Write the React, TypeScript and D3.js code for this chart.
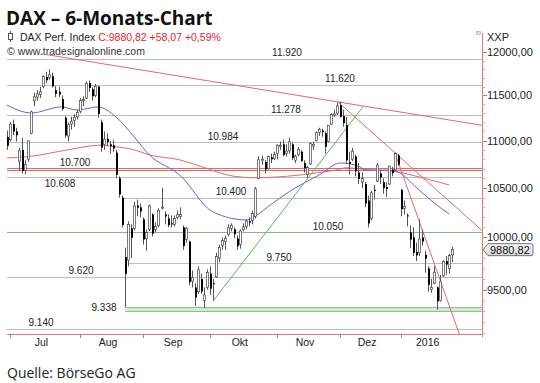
import React from 'react';
import * as d3 from 'd3';

const dates = [
  '2015-06-30',
  '2015-07-01','2015-07-02','2015-07-03','2015-07-06','2015-07-07','2015-07-08','2015-07-09','2015-07-10','2015-07-13','2015-07-14','2015-07-15','2015-07-16','2015-07-17','2015-07-20','2015-07-21','2015-07-22','2015-07-23','2015-07-24','2015-07-27','2015-07-28','2015-07-29','2015-07-30','2015-07-31',
  '2015-08-03','2015-08-04','2015-08-05','2015-08-06','2015-08-07','2015-08-10','2015-08-11','2015-08-12','2015-08-13','2015-08-14','2015-08-17','2015-08-18','2015-08-19','2015-08-20','2015-08-21','2015-08-24','2015-08-25','2015-08-26','2015-08-27','2015-08-28','2015-08-31',
  '2015-09-01','2015-09-02','2015-09-03','2015-09-04','2015-09-07','2015-09-08','2015-09-09','2015-09-10','2015-09-11','2015-09-14','2015-09-15','2015-09-16','2015-09-17','2015-09-18','2015-09-21','2015-09-22','2015-09-23','2015-09-24','2015-09-25','2015-09-28','2015-09-29','2015-09-30',
  '2015-10-01','2015-10-02','2015-10-05','2015-10-06','2015-10-07','2015-10-08','2015-10-09','2015-10-12','2015-10-13','2015-10-14','2015-10-15','2015-10-16','2015-10-19','2015-10-20','2015-10-21','2015-10-22','2015-10-23','2015-10-26','2015-10-27','2015-10-28','2015-10-29','2015-10-30',
  '2015-11-02','2015-11-03','2015-11-04','2015-11-05','2015-11-06','2015-11-09','2015-11-10','2015-11-11','2015-11-12','2015-11-13','2015-11-16','2015-11-17','2015-11-18','2015-11-19','2015-11-20','2015-11-23','2015-11-24','2015-11-25','2015-11-26','2015-11-27','2015-11-30',
  '2015-12-01','2015-12-02','2015-12-03','2015-12-04','2015-12-07','2015-12-08','2015-12-09','2015-12-10','2015-12-11','2015-12-14','2015-12-15','2015-12-16','2015-12-17','2015-12-18','2015-12-21','2015-12-22','2015-12-23','2015-12-28','2015-12-29','2015-12-30',
  '2016-01-04','2016-01-05','2016-01-06','2016-01-07','2016-01-08','2016-01-11','2016-01-12','2016-01-13','2016-01-14','2016-01-15','2016-01-18','2016-01-19','2016-01-20','2016-01-21','2016-01-22','2016-01-25','2016-01-26','2016-01-27',
];

const opens = [
  11040,
  11010,11180,11100,10780,10900,10680,10800,11080,11440,11480,11510,11600,11710,11700,11720,11560,11540,11460,11250,11050,11180,11220,11260,
  11320,11440,11470,11640,11570,11500,11600,11200,10960,11020,10960,10950,10870,10600,10400,9810,9780,10090,10090,10320,10300,
  10180,9990,10080,10230,10080,10120,10300,10230,10190,10140,10130,10200,10210,10100,9980,9960,9580,9520,9480,9600,9400,9520,
  9650,9560,9620,9800,9920,9960,10030,10090,10080,9990,9930,10080,10110,10160,10170,10210,10600,10790,10770,10700,10820,10810,
  10860,10940,10960,10860,10890,10960,10790,10850,10880,10760,10640,10750,10940,11000,11090,11110,11080,10990,11180,11280,11300,
  11390,11270,11170,10770,10800,10830,10660,10560,10540,10370,10190,10480,10570,10650,10560,10510,10540,10690,10690,10840,
  10480,10290,10220,10050,10000,9860,9850,10000,9830,9700,9500,9560,9520,9400,9630,9770,9700,9830,
];
const highs = [
  11110,
  11200,11230,11140,10920,11030,10790,11000,11330,11530,11560,11600,11730,11770,11800,11760,11610,11600,11500,11270,11200,11260,11290,11340,
  11470,11490,11660,11670,11590,11630,11610,11230,11100,11080,11000,11010,10900,10620,10420,9900,10160,10130,10360,10380,10340,
  10200,10080,10330,10240,10150,10290,10500,10260,10230,10220,10220,10270,10300,10120,10100,9970,9680,9560,9720,9650,9520,9690,
  9720,9600,9850,9930,10000,10020,10130,10140,10100,10020,10080,10140,10180,10200,10270,10510,10830,10840,10790,10840,10860,10880,
  10960,10990,11010,10960,11030,10980,10850,10930,10900,10790,10730,10980,10990,11100,11140,11130,11100,11170,11300,11340,11420,
  11430,11340,11260,10880,10920,10850,10760,10660,10560,10420,10470,10530,10760,10680,10600,10560,10730,10720,10870,10860,
  10490,10370,10240,10120,10100,9950,10180,10080,9870,9720,9600,9720,9530,9640,9780,9820,9840,9910,
];
const lows = [
  10900,
  10990,11060,10990,10680,10650,10640,10770,11070,11380,11440,11470,11580,11640,11680,11590,11480,11480,11330,11030,10990,11120,11150,11230,
  11300,11380,11460,11540,11440,11480,11250,10880,10900,10940,10860,10880,10600,10400,10100,9338,9720,9800,10070,10210,10200,
  9930,9870,10060,10010,10050,10100,10280,10130,10100,10100,10110,10180,10180,9880,9950,9540,9520,9350,9460,9460,9330,9500,
  9450,9400,9610,9760,9880,9880,10010,10060,9990,9880,9890,10060,10080,10110,10130,10190,10590,10740,10650,10690,10760,10790,
  10800,10900,10830,10830,10860,10790,10760,10830,10770,10660,10600,10740,10900,10990,11050,11040,10860,10980,11170,11260,11280,
  11250,11150,10750,10640,10780,10620,10540,10500,10300,10100,10170,10380,10560,10540,10440,10410,10530,10620,10680,10730,
  10210,10230,10110,9900,9820,9770,9820,9920,9660,9480,9470,9550,9314,9390,9620,9640,9650,9760,
];
const closes = [
  10945,
  11180,11099,11058,10890,10677,10747,10997,11316,11485,11517,11540,11717,11673,11735,11604,11520,11512,11347,11056,11174,11211,11257,11308,
  11443,11456,11636,11585,11490,11604,11293,10925,11015,10985,10940,10915,10636,10432,10124,9648,10128,9997,10315,10298,10259,
  9980,10048,10318,10038,10108,10271,10303,10210,10123,10131,10188,10227,10229,9916,10092,9570,9612,9427,9688,9483,9450,9660,
  9509,9553,9814,9902,9970,9993,10096,10119,10032,9915,10064,10104,10164,10147,10238,10491,10794,10801,10692,10831,10800,10850,
  10950,10951,10845,10887,10988,10815,10833,10907,10783,10708,10713,10971,10960,11086,11120,11092,10933,11169,11285,11293,11382,
  11261,11190,10789,10752,10886,10673,10592,10598,10340,10139,10450,10469,10738,10608,10497,10488,10727,10653,10860,10743,
  10283,10310,10214,9979,9849,9825,9985,9960,9794,9545,9521,9664,9391,9574,9765,9737,9823,9881,
];

// moving averages (bar index, value)
const blueMaIdx = [0, 8, 18, 23, 30, 36, 42, 47, 57, 68, 79, 81, 86, 94, 103, 110, 115, 119, 125, 129, 135, 141, 146];
const blueMaVal = [11392, 11303, 11371, 11336, 11371, 11258, 11039, 10846, 10634, 10254, 10174, 10194, 10304, 10478, 10634, 10760, 10739, 10686, 10686, 10665, 10508, 10345, 10233];
const redMaIdx = [0, 7, 20, 31, 34, 42, 47, 57, 64, 75, 82, 92, 103, 109, 112, 119, 128, 137, 146];
const redMaVal = [10814, 10828, 10900, 10952, 10941, 10900, 10846, 10794, 10724, 10620, 10605, 10620, 10659, 10689, 10710, 10689, 10671, 10605, 10530];

// horizontal levels
const levels = [11920, 11620, 11278, 10984, 10700, 10608, 10400, 10050, 9750, 9620, 9338, 9140];
const levelKind = ['gray', 'gray', 'gray', 'gray', 'red', 'gray', 'gray', 'green', 'gray', 'gray', 'band', 'gray'];
const levelStartIdx = [0, 0, 0, 0, 0, 0, 38.5, 0, 39.9, 0, 39, 0];
const bandLow = 9305;

// trend lines (bar index, value) anchors
const trendA = [[24, 11908], [109.2, 11427]];
const trendB = [[109.2, 11427], [128, 10870]];
const trendC = [[128, 10870], [137, 10080]];
const trendGreen = [[68, 9393], [117.5, 11373]];

const yTicks = [9500, 10000, 10500, 11000, 11500, 12000];
const monthLabels = ['Jul', 'Aug', 'Sep', 'Okt', 'Nov', 'Dez', '2016'];
const lastClose = 9880.82;

// layout for level labels (px) - not data
const levelLabelX = [287, 340, 286, 223, 75, 60, 231, 328, 279, 81, 104, 41];
const levelLabelPos = ['a', 'a', 'a', 'a', 'a', 'b', 'a', 'a', 'a', 'a', 'm', 'a'];

const de = d3.formatLocale({ decimal: ',', thousands: '.', grouping: [3], currency: ['', '€'] });
const fmtLevel = de.format(',');
const fmtTick = de.format('.2f');

const SANS = 'Liberation Sans, Arial, sans-serif';

export default function App() {
  const left = 7, right = 482, top = 30, bottom = 334;
  const x = d3.scaleLinear().domain([0, dates.length - 1]).range([7, 452.4]);
  const y = d3.scaleLog().domain([9094, 12085]).range([bottom, 45]);
  const step = x(1) - x(0);

  const monthStarts: number[] = [];
  dates.forEach((d, i) => {
    if (i > 0 && d.slice(5, 7) !== dates[i - 1].slice(5, 7)) monthStarts.push(i);
  });

  const maLine = d3.line<[number, number]>().x(d => x(d[0])).y(d => y(d[1])).curve(d3.curveMonotoneX);
  const blue = maLine(blueMaIdx.map((v, i) => [v, blueMaVal[i]] as [number, number]));
  const red = maLine(redMaIdx.map((v, i) => [v, redMaVal[i]] as [number, number]));

  const extLine = (t: number[][], x0: number, x1: number) => {
    const ax = x(t[0][0]), ay = y(t[0][1]), bx = x(t[1][0]), by = y(t[1][1]);
    const s = (by - ay) / (bx - ax);
    return { x1: x0, y1: ay + s * (x0 - ax), x2: x1, y2: ay + s * (x1 - ax) };
  };
  const lA = extLine(trendA, 42, right);
  const lB = extLine(trendB, x(trendB[0][0]), right);
  const lC = extLine(trendC, x(trendC[0][0]), 470);
  const lG = extLine(trendGreen, x(trendGreen[0][0]), x(trendGreen[1][0]));

  const minorTicks = d3.range(9100, 12100, 100);
  const yc = y(lastClose);

  return (
    <svg width={540} height={383} style={{ position: 'absolute', left: 0, top: 0, background: '#fff' }}>
      <defs>
        <clipPath id="plot"><rect x={left} y={top} width={right - left} height={bottom - top} /></clipPath>
        <linearGradient id="tag" x1="0" x2="0" y1="0" y2="1">
          <stop offset="0" stopColor="#f6f6f6" />
          <stop offset="1" stopColor="#d8d8d8" />
        </linearGradient>
      </defs>
      {/* Title */}
      <text x={6} y={25} fontFamily="Open Sans, sans-serif" fontWeight={700} fontSize={19} fill="#111">DAX – 6-Monats-Chart</text>
      {/* legend line */}
      <g stroke="#555" strokeWidth={1}>
        <line x1={10.5} x2={10.5} y1={31} y2={42} />
        <rect x={8.5} y={33.5} width={4} height={6} fill="#fff" />
      </g>
      <text x={20} y={40.5} fontFamily={SANS} fontSize={10.5} fill="#222">DAX Perf. Index <tspan fill="#e0262b">C:9880,82 +58,07 +0,59%</tspan></text>
      <text x={7} y={55} fontFamily={SANS} fontSize={10.5} fill="#333">© www.tradesignalonline.com</text>

      <g clipPath="url(#plot)">
        {/* horizontal levels */}
        {levels.map((v, i) => {
          const xs = i === 0 || levelStartIdx[i] === 0 ? left : x(levelStartIdx[i]);
          const yy = Math.round(y(v)) + 0.5;
          if (levelKind[i] === 'red') {
            return (
              <g key={i} stroke="#e06a6a" strokeWidth={1}>
                <line x1={xs} x2={right} y1={yy - 1} y2={yy - 1} />
                <line x1={xs} x2={right} y1={yy + 1} y2={yy + 1} />
              </g>
            );
          }
          if (levelKind[i] === 'band') {
            const y2 = Math.round(y(bandLow)) + 0.5;
            return (
              <g key={i}>
                <rect x={xs} y={yy} width={right - xs} height={y2 - yy} fill="#d3e9d3" />
                <line x1={xs} x2={right} y1={yy} y2={yy} stroke="#8cbf8c" />
                <line x1={xs} x2={right} y1={y2} y2={y2} stroke="#8cbf8c" />
              </g>
            );
          }
          return <line key={i} x1={xs} x2={right} y1={yy} y2={yy} stroke={levelKind[i] === 'green' ? '#86bb86' : '#bdbdbd'} strokeWidth={1} />;
        })}

        {/* moving averages */}
        <path d={red || ''} fill="none" stroke="#e06a6a" strokeWidth={1} />
        <path d={blue || ''} fill="none" stroke="#6464d8" strokeWidth={1} />

        {/* trend lines */}
        <line {...lA} stroke="#e06a6a" strokeWidth={1} />
        <line {...lB} stroke="#e06a6a" strokeWidth={1} />
        <line {...lC} stroke="#e06a6a" strokeWidth={1} />
        <line {...lG} stroke="#5fb05f" strokeWidth={1} />

        {/* candles */}
        {dates.map((d, i) => {
          const px = Math.round(x(i));
          const o = opens[i], c = closes[i];
          const up = c >= o;
          const yt = y(Math.max(o, c));
          const yb = y(Math.min(o, c));
          const hgt = Math.max(1, yb - yt);
          return (
            <g key={d}>
              <line x1={px + 0.5} x2={px + 0.5} y1={y(highs[i])} y2={y(lows[i])} stroke="#555" strokeWidth={1} />
              {up ? (
                <rect x={px - 0.5} y={yt} width={2} height={hgt} fill="#fff" stroke="#444" strokeWidth={0.7} />
              ) : (
                <rect x={px} y={yt} width={2} height={hgt} fill="#000" />
              )}
            </g>
          );
        })}
      </g>

      {/* level labels */}
      {levels.map((v, i) => {
        const yy = y(v);
        const pos = levelLabelPos[i];
        const by = pos === 'a' ? yy - 2.5 : pos === 'b' ? yy + 10 : yy + 3.5;
        return (
          <text key={i} x={levelLabelX[i]} y={by} textAnchor="middle" fontFamily={SANS} fontSize={10} fill="#222">{fmtLevel(v)}</text>
        );
      })}

      {/* right axis */}
      <line x1={right + 0.5} x2={right + 0.5} y1={33} y2={bottom + 3} stroke="#e07a7a" strokeWidth={1} />
      {minorTicks.map(v => (
        <line key={v} x1={right} x2={right + 3} y1={Math.round(y(v)) + 0.5} y2={Math.round(y(v)) + 0.5} stroke="#eaa0a0" />
      ))}
      {yTicks.map(v => (
        <g key={v}>
          <line x1={right + 1} x2={right + 5} y1={Math.round(y(v)) + 0.5} y2={Math.round(y(v)) + 0.5} stroke="#888" />
          <text x={487} y={y(v) + 4} fontFamily={SANS} fontSize={11} fill="#222">{fmtTick(v)}</text>
        </g>
      ))}
      <text x={487} y={41} fontFamily={SANS} fontSize={11} fill="#222">XXP</text>
      <rect x={476.5} y={31.5} width={4} height={3} fill="#ddd" stroke="#999" strokeWidth={0.5} />

      {/* last price tag */}
      <path d={`M${right + 1},${yc} L${right + 6},${yc - 6} H531 Q533,${yc - 6} 533,${yc - 4} V${yc + 4} Q533,${yc + 6} 531,${yc + 6} H${right + 6} Z`} fill="url(#tag)" stroke="#555" strokeWidth={0.8} />
      <text x={490} y={yc + 4} fontFamily={SANS} fontSize={11} fill="#111">{fmtTick(lastClose)}</text>

      {/* bottom axis */}
      <line x1={left} x2={right} y1={bottom + 0.5} y2={bottom + 0.5} stroke="#e07a7a" strokeWidth={1} />
      {monthStarts.map(i => (
        <line key={i} x1={Math.round(x(i)) + 0.5} x2={Math.round(x(i)) + 0.5} y1={bottom + 1} y2={bottom + 4} stroke="#888" />
      ))}
      {monthLabels.map((m, k) => {
        const a = monthStarts[k];
        const b = k + 1 < monthStarts.length ? monthStarts[k + 1] : a + 20;
        const cx = (x(a) + x(0) + step * b - x(0)) / 2;
        return (
          <text key={m} x={cx} y={346} textAnchor="middle" fontFamily={SANS} fontSize={10.5} fill="#222">{m}</text>
        );
      })}

      <text x={7} y={378} fontFamily="Open Sans, sans-serif" fontSize={14} fill="#222">Quelle: BörseGo AG</text>
    </svg>
  );
}
